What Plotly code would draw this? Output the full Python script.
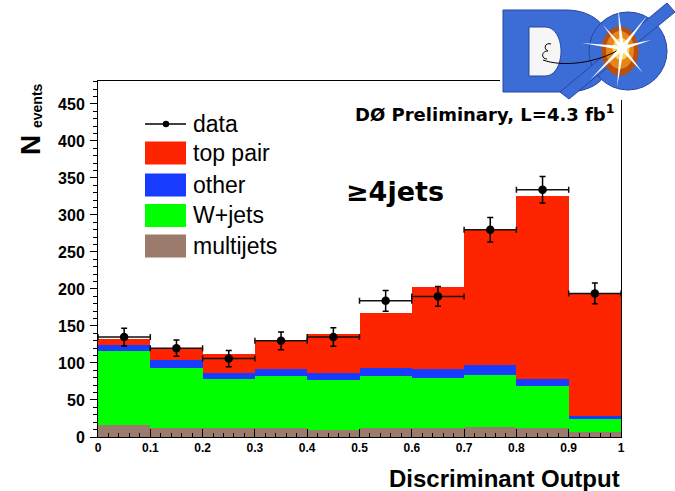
import plotly.graph_objects as go

# ---- histogram content (10 bins of the discriminant output) ----
bin_centers = [0.05, 0.15, 0.25, 0.35, 0.45, 0.55, 0.65, 0.75, 0.85, 0.95]
bin_width = 0.1

multijets = [16, 12, 12, 12, 10, 12, 12, 14, 12, 7]
wjets     = [100, 81, 66, 70, 67, 70, 68, 70, 57, 18]
other     = [8, 11, 9, 10, 9, 11, 11.5, 13, 10, 4]
top_pair  = [8, 15, 25, 38, 53, 74, 111.5, 183, 247, 166]

data      = [135, 120, 106, 130, 135, 184, 190, 280, 334, 194]
data_err  = [12, 11, 11, 12, 12.5, 14, 13.5, 16.5, 18, 14]
data_xerr = [0.05] * 10

legend_labels = ["data", "top pair", "other", "W+jets", "multijets"]

C_TOP = "#ff2400"
C_OTHER = "#173cff"
C_W = "#00ff00"
C_MJ = "#9b7b6b"

# ---- figure geometry (pixels) ----
W, H = 675, 491
L, R, T, B = 98, 621, 81, 437


def fx(x):
    return (x - L) / (R - L)


def fy(y):
    return (B - y) / (B - T)


def svg(*items):
    out = []
    for it in items:
        if isinstance(it, str):
            out.append(it)
        else:
            out.append(f"{fx(it[0]):.5f},{fy(it[1]):.5f}")
    return " ".join(out)


def rect(x0, y0, x1, y1, fill, lw=0, lc="black"):
    return dict(type="rect", xref="paper", yref="paper",
                x0=fx(x0), x1=fx(x1), y0=fy(y1), y1=fy(y0),
                fillcolor=fill, line=dict(width=lw, color=lc), layer="above")


def ellipse(cx, cy, rx, ry, fill, lw=0, lc="black"):
    return dict(type="circle", xref="paper", yref="paper",
                x0=fx(cx - rx), x1=fx(cx + rx), y0=fy(cy + ry), y1=fy(cy - ry),
                fillcolor=fill, line=dict(width=lw, color=lc), layer="above")


def pathshape(p, fill=None, lw=0, lc="black"):
    d = dict(type="path", xref="paper", yref="paper", path=p,
             line=dict(width=lw, color=lc), layer="above")
    if fill:
        d["fillcolor"] = fill
    return d


fig = go.Figure()

# stacked predictions, bottom to top
for vals, col, name in [(multijets, C_MJ, "multijets"), (wjets, C_W, "W+jets"),
                        (other, C_OTHER, "other"), (top_pair, C_TOP, "top pair")]:
    fig.add_trace(go.Bar(x=bin_centers, y=vals, width=bin_width, name=name,
                         marker=dict(color=col, line=dict(width=0)),
                         showlegend=False, hoverinfo="skip"))

# data points with statistical errors and bin-width bars
fig.add_trace(go.Scatter(
    x=bin_centers, y=data, mode="markers", name="data", showlegend=False,
    marker=dict(color="black", size=8.5),
    error_y=dict(type="data", array=data_err, color="black", thickness=1.5, width=3),
    error_x=dict(type="data", array=data_xerr, color="#111111", thickness=1.5, width=3),
))

fig.update_layout(
    width=W, height=H,
    margin=dict(l=L, r=W - R, t=T, b=H - B),
    paper_bgcolor="white", plot_bgcolor="white",
    barmode="stack", bargap=0,
    showlegend=False,
    xaxis=dict(range=[0, 1], tickmode="linear", tick0=0, dtick=0.1,
               ticks="inside", ticklen=8, tickwidth=1, tickcolor="black",
               minor=dict(dtick=0.02, ticks="inside", ticklen=4, tickcolor="black"),
               showline=True, linecolor="black", linewidth=1, mirror=True,
               showgrid=False, zeroline=False,
               tickfont=dict(family="Liberation Sans", size=12, color="black", weight="bold")),
    yaxis=dict(range=[0, 481], tickmode="linear", tick0=0, dtick=50,
               ticks="outside", ticklen=7, tickwidth=1, tickcolor="black",
               minor=dict(dtick=10, ticks="outside", ticklen=4, tickcolor="black"),
               showline=True, linecolor="black", linewidth=1, mirror=True,
               showgrid=False, zeroline=False, ticklabelstandoff=2,
               tickfont=dict(family="Liberation Sans", size=16, color="black", weight="bold")),
)

shapes = []

# ---- legend ----
shapes.append(dict(type="line", xref="paper", yref="paper",
                   x0=fx(145), x1=fx(186), y0=fy(124), y1=fy(124),
                   line=dict(color="black", width=1.5), layer="above"))
shapes.append(ellipse(166, 124, 3.2, 3.2, "black"))
box_rows = [(153, C_TOP), (185, C_OTHER), (215.5, C_W), (246, C_MJ)]
for yc, col in box_rows:
    shapes.append(rect(145, yc - 11.5, 186, yc + 11.5, col))

annotations = []
for lab, yc in zip(legend_labels, [124, 153, 185, 215.5, 246]):
    annotations.append(dict(text=lab, x=fx(191), y=fy(yc), xref="paper", yref="paper",
                            xanchor="left", yanchor="middle", showarrow=False,
                            font=dict(family="Liberation Sans", size=23, color="black")))

# ---- experiment logo ----
BLUE = "#3c6dd6"
EDGE = "#24479e"
shapes.append(rect(500, 0, 675, 100, "white"))
# letter D
shapes.append(pathshape(svg("M", (503, 10), "L", (566, 10), "C", (598, 10), (612, 32), (612, 52),
                            "C", (612, 74), (598, 92), (566, 92), "L", (503, 92), "Z"),
                        fill=BLUE, lw=1, lc=EDGE))
shapes.append(pathshape(svg("M", (529, 27), "L", (545, 27), "C", (556, 27), (561, 40), (561, 51),
                            "C", (561, 63), (556, 76), (545, 76), "L", (529, 76), "Z"),
                        fill="#f6f6f6", lw=1, lc=EDGE))
# letter O with slash
shapes.append(ellipse(628, 51, 39, 39, BLUE, lw=1, lc=EDGE))
shapes.append(pathshape(svg("M", (560, 92), "L", (569, 99), "L", (675, 12), "L", (667, 3), "Z"),
                        fill=BLUE, lw=1, lc=EDGE))
shapes.append(ellipse(620, 51, 18.5, 24.5, "#b9500a"))
shapes.append(ellipse(620, 50, 14, 19, "#e6861a"))
shapes.append(ellipse(621, 49, 8.5, 11, "#fbd158"))
# doodle inside the D
shapes.append(pathshape(svg("M", (543, 60), "C", (562, 67), (596, 64), (622, 48)),
                        lw=1, lc="black"))
shapes.append(pathshape(svg("M", (551, 44), "C", (545, 42), (543, 49), (548, 51),
                            "C", (541, 51), (541, 59), (547, 59)), lw=1, lc="black"))
# starburst
cx, cy = 622, 48
rays = [(582, 43), (603, 25), (618, 7), (647, 16), (651, 40), (643, 73), (617, 87), (590, 80)]
for ex, ey in rays:
    dx, dy = ex - cx, ey - cy
    n = (dx * dx + dy * dy) ** 0.5
    px_, py_ = -dy / n * 2.0, dx / n * 2.0
    shapes.append(pathshape(svg("M", (cx + px_, cy + py_), "L", (ex, ey),
                                "L", (cx - px_, cy - py_), "Z"), fill="white"))
shapes.append(ellipse(cx, cy, 5.5, 5.5, "white"))

# ---- labels ----
annotations += [
    dict(text="DØ Preliminary, L=4.3 fb<sup>1</sup>", x=fx(353), y=fy(113),
         xref="paper", yref="paper", xanchor="left", yanchor="middle", showarrow=False,
         font=dict(family="DejaVu Sans", size=18, color="black", weight="bold")),
    dict(text="≥4jets", x=fx(344), y=fy(191), xref="paper", yref="paper",
         xanchor="left", yanchor="middle", showarrow=False,
         font=dict(family="DejaVu Sans", size=27, color="black", weight="bold")),
    dict(text="Discriminant Output", x=fx(622), y=fy(478), xref="paper", yref="paper",
         xanchor="right", yanchor="middle", showarrow=False,
         font=dict(family="Liberation Sans", size=24, color="black", weight="bold")),
    dict(text="N", x=fx(30), y=fy(145), xref="paper", yref="paper",
         xanchor="center", yanchor="middle", showarrow=False, textangle=-90,
         font=dict(family="Liberation Sans", size=28, color="black", weight="bold")),
    dict(text="events", x=fx(37), y=fy(106), xref="paper", yref="paper",
         xanchor="center", yanchor="middle", showarrow=False, textangle=-90,
         font=dict(family="Liberation Sans", size=14, color="black", weight="bold")),
]

fig.update_layout(shapes=shapes, annotations=annotations)
fig.write_html("out.html")
